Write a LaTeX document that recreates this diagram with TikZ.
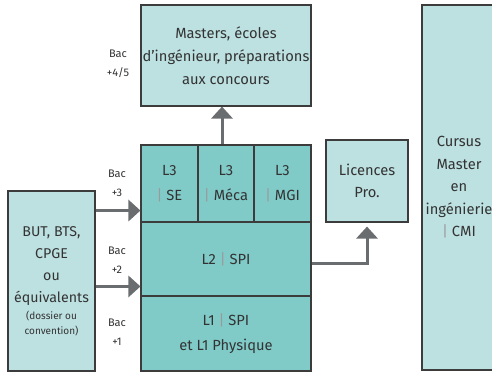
\documentclass[tikz,border=0pt]{standalone}
\usepackage{fontspec}
\setmainfont{Fira Sans}
\usepackage{xcolor}
\definecolor{pale}{HTML}{BDE0E1}
\definecolor{level}{HTML}{80CBC8}
\definecolor{frame}{HTML}{3C3C3C}
\definecolor{flowgray}{HTML}{6A6D6F}
\definecolor{bargray}{HTML}{9A9A9A}
\definecolor{ink}{HTML}{333333}
\usetikzlibrary{arrows.meta}
\usetikzlibrary{positioning}
\newcommand{\vbar}{{\color{bargray}|}}

\begin{document}
\begin{tikzpicture}[x = 1pt, y = -1pt,
	box/.style = {draw = frame, line width = 1.1pt, fill = pale, inner sep = 0pt, text = ink, align = center, font = \fontsize{14.7}{22.5}\selectfont},
	lbox/.style = {box, fill = level, font = \fontsize{14.7}{25}\selectfont},
	bac/.style = {text = ink, align = center, font = \fontsize{11}{19}\selectfont},
	flow/.style = {draw = flowgray, line width = 3pt, -{Triangle[length = 12pt, width = 21pt]}}]

	\useasboundingbox (0,0) rectangle (492,372);

	\node [box, minimum width = 170pt, minimum height = 101pt, font = \fontsize{14.7}{23}\selectfont] (masters) at (226,55.5) {Masters, écoles\\d’ingénieur, préparations\\aux concours};

	\node [lbox, minimum width = 57pt, minimum height = 77pt] (lse) 	at (169.5,183.5) {L3\\\vbar\ SE};
	\node [lbox, minimum width = 56pt, minimum height = 77pt] (lmeca) 	at (226,183.5) {L3\\\vbar\ Méca};
	\node [lbox, minimum width = 57pt, minimum height = 77pt] (lmgi) 	at (282.5,183.5) {L3\\\vbar\ MGI};

	\node [lbox, minimum width = 170pt, minimum height = 74pt] (ltwo) 	at (226,259) {L2 \vbar\ SPI};
	\node [lbox, minimum width = 170pt, minimum height = 75pt] (lone) 	at (226,333.5) {L1 \vbar\ SPI\\et L1 Physique};

	\node [box, minimum width = 87pt, minimum height = 180pt, font = \fontsize{14.2}{22}\selectfont] (but) 	at (51.5,281) {BUT, BTS,\\CPGE\\ou\\équivalents\\[-5pt]{\fontsize{10}{15}\selectfont (dossier ou}\\[-7pt]{\fontsize{10}{15}\selectfont convention)}};

	\node [box, minimum width = 82pt, minimum height = 82pt] (licpro) 	at (367,181) {Licences\\Pro.};

	\node [box, minimum width = 74pt, minimum height = 365pt] (cmi) 	at (459,187.5) {Cursus\\Master\\en\\ingénierie\\\vbar\ CMI};

	% niveaux
	\node [bac] (bacfour) 	at (118,64) {Bac\\+4/5};
	\node [bac] (bacthree) 	at (117,183.5) {Bac\\+3};
	\node [bac] (bactwo) 	at (117,260) {Bac\\+2};
	\node [bac] (bacone) 	at (117,332) {Bac\\+1};

	% passerelles
	\draw [flow] 	([yshift = 12pt]lse.south west -| but.east) -- ([yshift = 12pt]lse.south west);
	\draw [flow] 	([yshift = 9pt]lone.north west -| but.east) -- ([yshift = 9pt]lone.north west);
	\draw [flow] 	([xshift = -4pt]lmeca.north) -- ([xshift = -4pt]masters.south);
	\draw [flow] 	([yshift = -4pt]ltwo.east) -| ([yshift = -4pt]licpro.south);

\end{tikzpicture}
\end{document}
